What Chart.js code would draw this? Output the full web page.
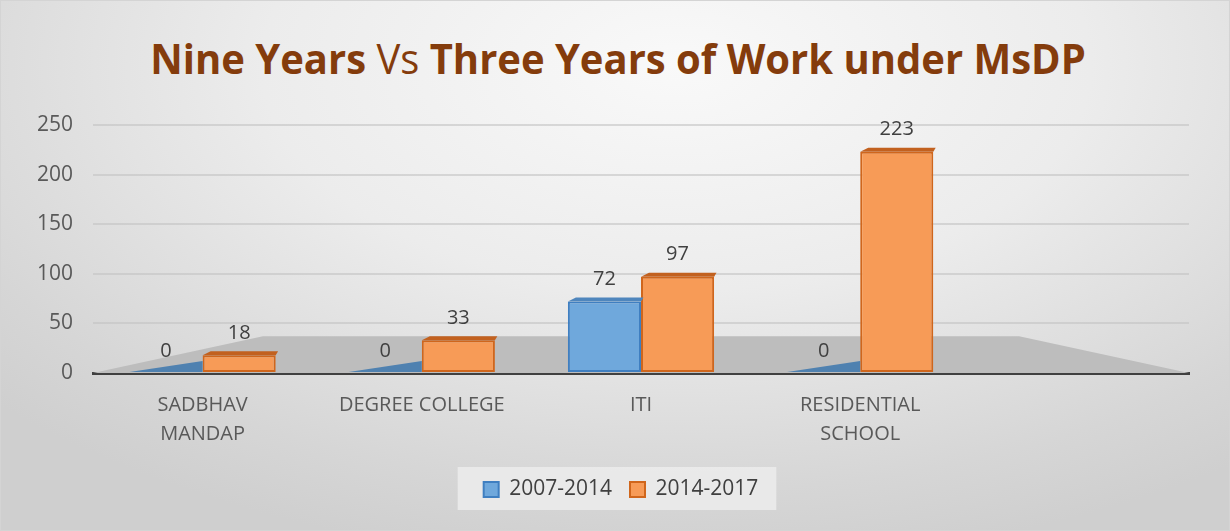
<!DOCTYPE html>
<html>
<head>
<meta charset="utf-8">
<script src="https://cdn.jsdelivr.net/npm/chart.js@4/dist/chart.umd.min.js"></script>
<style>
  html, body { margin: 0; padding: 0; }
  #wrap {
    position: relative;
    width: 1230px;
    height: 531px;
    box-sizing: border-box;
    border: 1px solid #d4d4d4;
    background: radial-gradient(ellipse 75% 95% at 55% 12%, #f9f9f9 0%, #ececec 45%, #d6d6d6 85%, #cfcfcf 100%);
    overflow: hidden;
  }
  #titulo {
    position: absolute;
    left: 0;
    top: 36px;
    width: 1234px;
    text-align: center;
    font-family: "Open Sans", sans-serif;
    font-size: 42px;
    line-height: 1;
    color: #843c0c;
    white-space: nowrap;
    transform: scaleX(0.952);
    transform-origin: 617px 0;
  }
  #titulo b { font-weight: 700; }
  canvas { position: absolute; left: 0; top: 0; }
</style>
</head>
<body>
<div id="wrap">
  <div id="titulo"><b>Nine Years</b> Vs <b>Three Years of Work under MsDP</b></div>
  <canvas id="grafico" width="1230" height="531"></canvas>
</div>
<script>
// Datos del gráfico
const categorias = [['SADBHAV', 'MANDAP'], 'DEGREE COLLEGE', 'ITI', ['RESIDENTIAL', 'SCHOOL'], ''];
const serie2007 = [0, 0, 72, 0, null];
const serie2014 = [18, 33, 97, 223, null];
const nombresSeries = ['2007-2014', '2014-2017'];
const ticksY = [0, 50, 100, 150, 200, 250];

const colores = {
  azul: '#6fa8dc',
  azulBorde: '#3f7fc1',
  azulTapa: '#4f86bd',
  azulPlano: '#4f81b0',
  naranja: '#f79b57',
  naranjaBorde: '#d0661c',
  naranjaTapa: '#c2611f',
  texto: '#404040'
};

// Suelo gris en "perspectiva" bajo las barras
const pluginSuelo = {
  id: 'suelo',
  beforeDatasetsDraw(chart) {
    const { ctx, chartArea: a, scales: { y } } = chart;
    const y0 = y.getPixelForValue(0);
    const fondo = y0 - y.getPixelForValue(37);
    const margen = a.width * 0.155;
    ctx.save();
    ctx.fillStyle = '#bdbdbd';
    ctx.beginPath();
    ctx.moveTo(a.left, y0);
    ctx.lineTo(a.left + margen, y0 - fondo);
    ctx.lineTo(a.right - margen, y0 - fondo);
    ctx.lineTo(a.right, y0);
    ctx.closePath();
    ctx.fill();
    ctx.restore();
  }
};

// Tapa superior de las barras y etiquetas de valores
const pluginEtiquetas = {
  id: 'etiquetas',
  afterDatasetsDraw(chart) {
    const { ctx } = chart;
    const tapas = [colores.azulTapa, colores.naranjaTapa];
    ctx.save();
    chart.data.datasets.forEach((ds, i) => {
      const meta = chart.getDatasetMeta(i);
      meta.data.forEach((barra, j) => {
        const v = ds.data[j];
        if (v === null || v === undefined) return;
        const w = barra.width;
        const d = 8;
        if (v > 0) {
          ctx.fillStyle = tapas[i];
          ctx.beginPath();
          ctx.moveTo(barra.x - w / 2, barra.y);
          ctx.lineTo(barra.x - w / 2 + d, barra.y - d * 0.5);
          ctx.lineTo(barra.x + w / 2 + d * 0.3, barra.y - d * 0.5);
          ctx.lineTo(barra.x + w / 2, barra.y);
          ctx.closePath();
          ctx.fill();
        } else if (i === 0) {
          // barra de valor cero: plano azul sobre el suelo
          ctx.fillStyle = colores.azulPlano;
          ctx.beginPath();
          ctx.moveTo(barra.x - w / 2, barra.base - 1);
          ctx.lineTo(barra.x + w / 2, barra.base - 1);
          ctx.lineTo(barra.x + w / 2, barra.base - 12);
          ctx.closePath();
          ctx.fill();
        }
        ctx.fillStyle = colores.texto;
        ctx.font = '20px "Open Sans"';
        ctx.textAlign = 'center';
        ctx.textBaseline = 'bottom';
        ctx.fillText(String(v), barra.x, barra.y - 12);
      });
    });
    ctx.restore();
  }
};

// Fondo de la leyenda y desplazamiento hacia la derecha
const pluginFondoLeyenda = {
  id: 'fondoLeyenda',
  afterLayout(chart) {
    const l = chart.legend;
    if (!l) return;
    l.left += 16;
    l.right += 16;
  },
  beforeDraw(chart) {
    const cajas = chart.legend && chart.legend.legendHitBoxes;
    if (!cajas || !cajas.length) return;
    const ultima = cajas[cajas.length - 1];
    const izq = cajas[0].left - 26;
    const der = ultima.left + ultima.width + 18;
    const arr = cajas[0].top - 12;
    const abj = cajas[0].top + cajas[0].height + 10;
    const { ctx } = chart;
    ctx.save();
    ctx.fillStyle = 'rgba(236,236,236,0.85)';
    ctx.fillRect(izq, arr, der - izq, abj - arr);
    ctx.restore();
  }
};

const ctx = document.getElementById('grafico').getContext('2d');
new Chart(ctx, {
  type: 'bar',
  data: {
    labels: categorias,
    datasets: [
      {
        label: nombresSeries[0],
        data: serie2007,
        backgroundColor: colores.azul,
        borderColor: colores.azulBorde,
        borderWidth: 2,
        borderSkipped: false
      },
      {
        label: nombresSeries[1],
        data: serie2014,
        backgroundColor: colores.naranja,
        borderColor: colores.naranjaBorde,
        borderWidth: 2,
        borderSkipped: false
      }
    ]
  },
  options: {
    responsive: false,
    animation: false,
    layout: { padding: { top: 124, left: 20, right: 42, bottom: 22 } },
    datasets: { bar: { barPercentage: 1, categoryPercentage: 0.667 } },
    plugins: {
      title: { display: false },
      tooltip: { enabled: false },
      legend: {
        position: 'bottom',
        labels: {
          boxWidth: 15,
          boxHeight: 15,
          padding: 18,
          color: colores.texto,
          font: { family: 'Open Sans', size: 21 }
        }
      }
    },
    scales: {
      y: {
        min: 0,
        max: 250,
        afterFit(scale) { scale.width = 72; },
        afterBuildTicks(scale) { scale.ticks = ticksY.map(v => ({ value: v })); },
        ticks: {
          padding: 20,
          color: '#595959',
          font: { family: 'Open Sans', size: 21 }
        },
        grid: { color: 'rgba(195,195,195,0.6)', lineWidth: 2, drawTicks: false },
        border: { display: false }
      },
      x: {
        afterFit(scale) { scale.height = 88; },
        ticks: {
          padding: 10,
          color: '#595959',
          maxRotation: 0,
          autoSkip: false,
          font: { family: 'Open Sans', size: 20, lineHeight: 1.45 }
        },
        grid: { display: false },
        border: { color: '#404040', width: 3 }
      }
    }
  },
  plugins: [pluginFondoLeyenda, pluginSuelo, pluginEtiquetas]
});
</script>
</body>
</html>
